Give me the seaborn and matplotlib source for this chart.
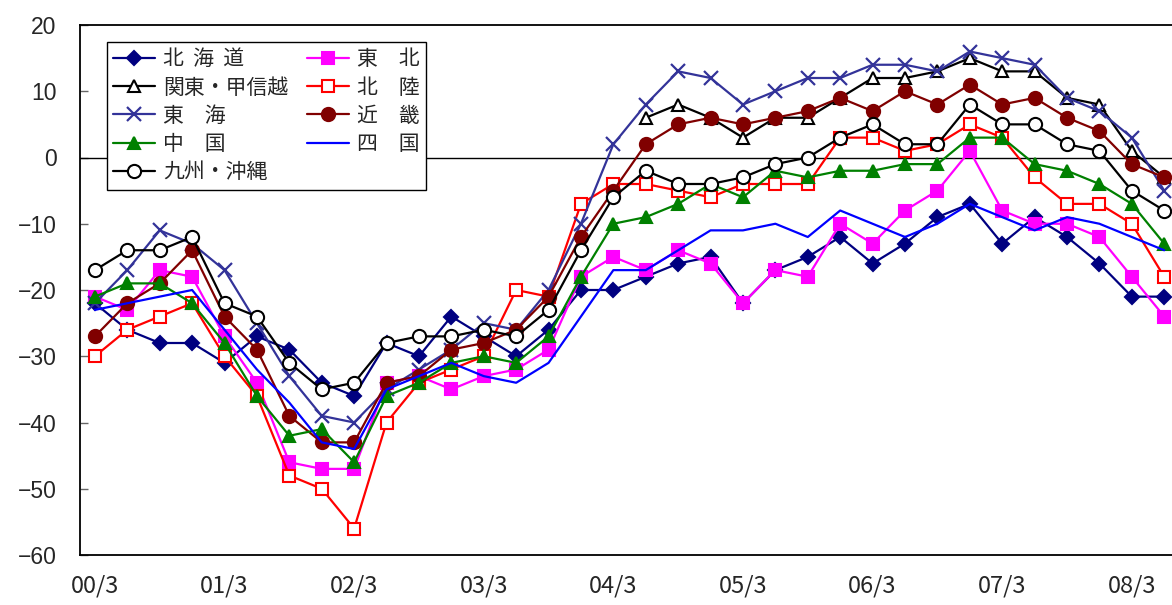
import matplotlib
matplotlib.use('Agg')
import matplotlib.pyplot as plt
import seaborn as sns
import numpy as np
import pandas as pd

# quarterly points 00/3 .. 08/6
quarters = list(range(34))
tick_pos = list(range(0, 34, 4))
tick_labels = ['00/3', '01/3', '02/3', '03/3', '04/3', '05/3', '06/3', '07/3', '08/3']

nan = np.nan
hokkaido = [-22, -26, -28, -28, -31, -27, -29, -34, -36, -28, -30, -24, -27, -30, -26, -20, -20,
            -18, -16, -15, -22, -17, -15, -12, -16, -13, -9, -7, -13, -9, -12, -16, -21, -21]
tohoku = [-21, -23, -17, -18, -27, -34, -46, -47, -47, -34, -33, -35, -33, -32, -29, -18, -15,
          -17, -14, -16, -22, -17, -18, -10, -13, -8, -5, 1, -8, -10, -10, -12, -18, -24]
kanto = [nan] * 17 + [6, 8, 6, 3, 6, 6, 9, 12, 12, 13, 15, 13, 13, 9, 8, 1, -3]
hokuriku = [-30, -26, -24, -22, -30, -36, -48, -50, -56, -40, -34, -32, -30, -20, -21, -7, -4,
            -4, -5, -6, -4, -4, -4, 3, 3, 1, 2, 5, 3, -3, -7, -7, -10, -18]
tokai = [-22, -17, -11, -13, -17, -25, -33, -39, -40, -35, -32, -29, -25, -26, -20, -10, 2,
         8, 13, 12, 8, 10, 12, 12, 14, 14, 13, 16, 15, 14, 9, 7, 3, -5]
kinki = [-27, -22, -19, -14, -24, -29, -39, -43, -43, -34, -33, -29, -28, -26, -21, -12, -5,
         2, 5, 6, 5, 6, 7, 9, 7, 10, 8, 11, 8, 9, 6, 4, -1, -3]
chugoku = [-21, -19, -19, -22, -28, -36, -42, -41, -46, -36, -34, -31, -30, -31, -27, -18, -10,
           -9, -7, -4, -6, -2, -3, -2, -2, -1, -1, 3, 3, -1, -2, -4, -7, -13]
shikoku = [-23, -22, -21, -20, -26, -32, -37, -43, -44, -35, -33, -31, -33, -34, -31, -24, -17,
           -17, -14, -11, -11, -10, -12, -8, -10, -12, -10, -7, -9, -11, -9, -10, -12, -14]
kyushu = [-17, -14, -14, -12, -22, -24, -31, -35, -34, -28, -27, -27, -26, -27, -23, -14, -6,
          -2, -4, -4, -3, -1, 0, 3, 5, 2, 2, 8, 5, 5, 2, 1, -5, -8]

# (key, label, values, color, marker, facecolor, size) in drawing order
series = [
    ('hokkaido', '北  海  道', hokkaido, '#000080', 'D', '#000080', 7),
    ('tohoku', '東　北', tohoku, '#FF00FF', 's', '#FF00FF', 9),
    ('kanto', '関東・甲信越', kanto, 'black', '^', 'white', 9),
    ('hokuriku', '北　陸', hokuriku, '#FF0000', 's', 'white', 9),
    ('tokai', '東　海', tokai, '#333399', 'x', '#333399', 10),
    ('kinki', '近　畿', kinki, '#800000', 'o', '#800000', 9.5),
    ('chugoku', '中　国', chugoku, '#008000', '^', '#008000', 9),
    ('shikoku', '四　国', shikoku, '#0000FF', None, '#0000FF', 0),
    ('kyushu', '九州・沖縄', kyushu, 'black', 'o', 'white', 9.5),
]
legend_order = ['hokkaido', 'kanto', 'tokai', 'chugoku', 'kyushu',
                'tohoku', 'hokuriku', 'kinki', 'shikoku']

sns.set_theme(style="white")
plt.rcParams['font.family'] = ['Noto Sans CJK JP', 'DejaVu Sans']

fig = plt.figure(figsize=(11.72, 6.05), dpi=100)
ax = fig.add_axes([80 / 1172, 50 / 605, 1092 / 1172, 530 / 605])

handles = {}
for key, label, vals, color, marker, fc, ms in series:
    df = pd.DataFrame({'q': quarters, 'v': vals}).dropna()
    kw = dict(color=color, linewidth=1.6)
    if marker is not None:
        kw.update(marker=marker, markersize=ms, markerfacecolor=fc,
                  markeredgecolor=color, markeredgewidth=1.5 if marker != 'x' else 1.6)
    sns.lineplot(data=df, x='q', y='v', ax=ax, sort=False, errorbar=None,
                 label=label, legend=False, **kw)
    handles[key] = (ax.lines[-1], label)

ax.axhline(0, color='black', linewidth=1.0, zorder=1)

ax.set_xlim(-0.46, 33.24)
ax.set_ylim(-60, 20)
ax.set_yticks(range(-60, 21, 10))
ax.set_xticks(tick_pos)
ax.set_xticklabels(tick_labels, fontsize=17, family=['Noto Sans CJK JP', 'DejaVu Sans'])
for t in ax.get_yticklabels():
    t.set_fontfamily(['Liberation Sans', 'DejaVu Sans'])
    t.set_fontsize(16.5)
ax.tick_params(axis='y', direction='in', length=6, width=1, color='#666666', pad=17, left=True)
ax.tick_params(axis='x', length=0, pad=14)
ax.set_xlabel('')
ax.set_ylabel('')

for side in ['left', 'bottom', 'top']:
    ax.spines[side].set_color('black')
    ax.spines[side].set_linewidth(1.3)
ax.spines['right'].set_visible(False)

leg = ax.legend([handles[k][0] for k in legend_order], [handles[k][1] for k in legend_order],
                ncol=2, loc='upper left', bbox_to_anchor=((107 - 80) / 1092, (555 - 42) / 530),
                borderaxespad=0, fontsize=15, frameon=True, fancybox=False, framealpha=1,
                edgecolor='black', handlelength=2.0, handletextpad=0.4, labelspacing=0.3,
                columnspacing=0.9, borderpad=0.3)
leg.get_frame().set_linewidth(1.0)

fig.savefig('out.png', dpi=100)
